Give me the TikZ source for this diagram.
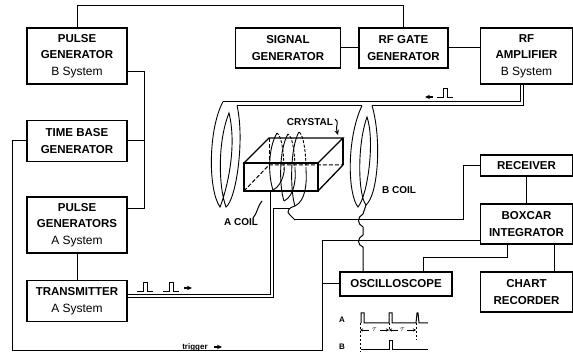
\documentclass[tikz,border=0pt]{standalone}
\usepackage{fontspec}
\setmainfont{Liberation Sans}
\usetikzlibrary{arrows.meta}
\tikzset{
  blk/.style={draw, line width=1.4pt, inner sep=0pt, align=center, font=\bfseries\fontsize{11.5}{16.5}\selectfont},
  lbl/.style={inner sep=0pt, font=\bfseries\fontsize{10}{12}\selectfont},
  tinylbl/.style={inner sep=0pt, font=\bfseries\fontsize{8}{10}\selectfont},
  wire/.style={line width=1pt},
  coilline/.style={line width=.9pt},
  edge/.style={line width=1.3pt}
}
\newcommand{\subsys}[1]{{\mdseries\fontsize{12}{16.5}\selectfont #1}}
\begin{document}
\begin{tikzpicture}[x=1pt, y=-1pt, >={Stealth[length=5pt,width=4.5pt]}]
\useasboundingbox (0,0) rectangle (573,352);

% blocks
\node[blk, minimum width=100pt, minimum height=56pt] (pulseB) at (77,56) {PULSE\\GENERATOR\\\subsys{B System}};
\node[blk, minimum width=105pt, minimum height=40pt] (signal) at (288,48) {SIGNAL\\GENERATOR};
\node[blk, minimum width=89pt, minimum height=40pt] (rfgate) at (403.5,48) {RF GATE\\GENERATOR};
\node[blk, minimum width=92pt, minimum height=56pt] (rfamp) at (526.5,56) {RF\\AMPLIFIER\\\subsys{B System}};
\node[blk, minimum width=100pt, minimum height=41pt] (timebase) at (77,141) {TIME BASE\\GENERATOR};
\node[blk, minimum width=100pt, minimum height=56pt] (pulseA) at (77,225) {PULSE\\GENERATORS\\\subsys{A System}};
\node[blk, minimum width=100pt, minimum height=41pt] (xmit) at (77,301) {TRANSMITTER\\\subsys{A System}};
\node[blk, minimum width=92pt, minimum height=21pt] (receiver) at (526.5,165.5) {RECEIVER};
\node[blk, minimum width=92pt, minimum height=40pt] (boxcar) at (526.5,224) {BOXCAR\\INTEGRATOR};
\node[blk, minimum width=112pt, minimum height=24pt] (osc) at (396,284) {OSCILLOSCOPE};
\node[blk, minimum width=92pt, minimum height=40pt] (chart) at (526.5,292) {CHART\\RECORDER};

% labels
\node[lbl] (crystal) at (310,122) {CRYSTAL};
\node[lbl] (acoil) at (241,222) {A COIL};
\node[lbl] (bcoil) at (399,190) {B COIL};
\node[tinylbl] (trigger) at (195,347) {trigger};
\node[tinylbl] (labA) at (342,320) {A};
\node[tinylbl] (labB) at (342,346.5) {B};

% connections between blocks
\draw[wire] (pulseB.north) -- (77,6) -- (403.5,6) -- (rfgate.north);
\draw[wire] (signal.east) -- (rfgate.west);
\draw[wire] (rfgate.east) -- (rfamp.west |- rfgate.east);
\draw[wire] (pulseB.east |- 0,72) -- (144,72) -- (144,209) -- (pulseA.east |- 0,209);
\draw[wire] (timebase.east) -- (144,141);
\draw[wire] (pulseA.south) -- (xmit.north);
\draw[wire] (timebase.west) -- (12,141) -- (12,351) -- (322,351) -- (322,241) -- (boxcar.west |- 0,241);
\draw[wire] (322,284) -- (osc.west);
\draw[wire] (receiver.south) -- (boxcar.north);
\draw[wire] (receiver.west) -- (463,165.5) -- (463,220) -- (295,220);
\draw[wire] (507,244) -- (507,258) -- (423,258) -- (423,272);
\draw[wire] (554,244) -- (554,272);

% double leads
\draw[wire] (520,84) -- (520,101.5) -- (223,101.5);
\draw[wire] (523.5,84) -- (523.5,105.5) -- (372,105.5);
\draw[wire] (362,105.5) -- (237,105.5);
\draw[wire] (xmit.east |- 0,295) -- (270,295) -- (270,190);
\draw[wire] (xmit.east |- 0,297.5) -- (273,297.5) -- (273,209) -- (290,209);

% A coil
\draw[coilline] (223,101.5) .. controls (208,130) and (208,190) .. (220,207) .. controls (225,195) and (238,150) .. (229,113) .. controls (218,140) and (218,185) .. (226,207) .. controls (236,200) and (245,140) .. (237,105.5);
% B coil
\draw[coilline] (362,105.5) .. controls (346,140) and (348,195) .. (358,207) .. controls (368,195) and (375,140) .. (367,117) .. controls (357,145) and (358,195) .. (366,205) .. controls (378,195) and (382,140) .. (372,105.5);
% B coil lead, with bumps over the two lines
\draw[wire] (366,205) -- (363,214) .. controls (357,217) and (357,224) .. (363,227) -- (363,235) .. controls (357,238) and (357,245) .. (363,247) -- (363,272);

% crystal
\draw[edge] (244,163) rectangle (318,191);
\draw[edge] (244,163) -- (269,138) -- (343,138) -- (318,163);
\draw[edge] (318,191) -- (343,165);
\draw[edge] (343,138) -- (343,165);
\draw[wire, dash pattern=on 4pt off 2pt] (244,191) -- (269,165) -- (343,165);
\draw[wire, dash pattern=on 4pt off 2pt] (269,138) -- (269,165);

% windings
\foreach \cx/\topy/\boty in {276/133/190, 287/134/201, 298/132/206}
{
   \draw[coilline] (\cx+1,\topy) .. controls (\cx-8,\topy+15) and (\cx-8,\boty-15) .. (\cx-3,\boty);
   \draw[coilline] (\cx-3,\boty) .. controls (\cx+8,\boty-5) and (\cx+9,\boty-25) .. (\cx+8,170);
   \draw[coilline, dash pattern=on 3pt off 1.5pt] (\cx+8,170) .. controls (\cx+8,155) and (\cx+6,\topy+3) .. (\cx+1,\topy);
}
\draw[wire] (295,206) .. controls (288,208) and (286,212) .. (290,215) .. controls (293,217) and (293,219) .. (295,220);

% leaders
\draw[wire] (253,218) .. controls (257,214) and (258,205) .. (262,201);
\draw[wire, ->] (335,119) .. controls (340,122) and (335,125) .. (338,135);

% pulses on the leads
\foreach \x in {137,163}
{
   \draw[wire] (\x,292) -- ++(6,0) -- ++(0,-9) -- ++(4,0) -- ++(0,9) -- ++(6,0);
}
\draw[wire] (437,98) -- ++(6,0) -- ++(0,-9) -- ++(4,0) -- ++(0,9) -- ++(6,0);
\draw[line width=1.2pt, ->] (184,288) -- (192,288);
\draw[line width=1.2pt, ->] (433,97) -- (425,97);
\draw[line width=1.2pt, ->] (214,347) -- (222,347);

% timing sketch
\draw[wire] (361,323) -- (361,313) -- (364,313) -- (364,323) -- (389,323) -- (389,313) -- (392,313) -- (392,323) -- (416,323) -- (417,313) -- (418,313) -- (419,323) -- (428,323);
\draw[wire] (361,350) -- (389,350) -- (389,341) -- (392,341) -- (392,350) -- (428,350);
\foreach \x/\y in {360/352, 389/331, 416/340}
{
   \draw[line width=.7pt, dash pattern=on 2.5pt off 1.5pt] (\x,323) -- (\x,\y);
}
\foreach \x/\y in {360/389, 389/416}
{
   \draw[line width=.6pt, {Stealth[length=3pt,width=3pt]}-] (\x,330) -- ({\x+9},330);
   \draw[line width=.6pt, -{Stealth[length=3pt,width=3pt]}] ({\y-9},330) -- (\y,330);
   \node[lbl, font=\fontsize{8}{9}\selectfont] (tau\x) at ({(\x+\y)/2},330) {$\tau$};
}
\end{tikzpicture}
\end{document}
